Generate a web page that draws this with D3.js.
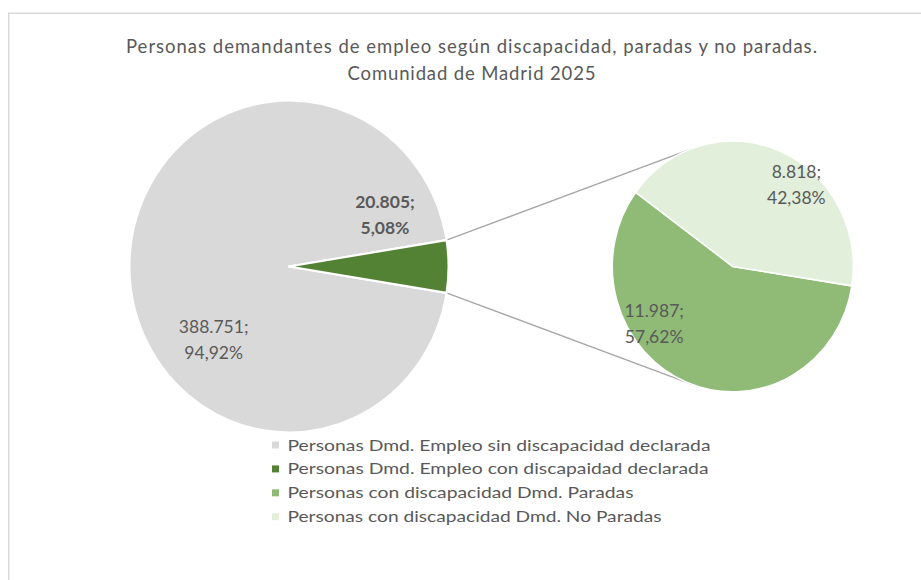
<!DOCTYPE html>
<html>
<head>
<meta charset="utf-8"/>
<script src="https://cdn.jsdelivr.net/npm/d3@7"></script>
<style>
  body { margin: 0; background: #fff; }
  text { font-family: Lato, "Open Sans", sans-serif; fill: #595959; }
</style>
</head>
<body>
<svg id="chart" width="921" height="580"></svg>
<script>
// data
const titleLines = ["Personas demandantes de empleo según discapacidad, paradas y no paradas.", "Comunidad de Madrid 2025"];
const mainLabels = ["Personas Dmd. Empleo sin discapacidad declarada", "Personas Dmd. Empleo con discapaidad declarada"];
const mainValues = [388751, 20805];
const subLabels = ["Personas con discapacidad Dmd. Paradas", "Personas con discapacidad Dmd. No Paradas"];
const subValues = [11987, 8818];
const colors = ["#d9d9d9", "#548235", "#8fbb77", "#e2efda"];

// layout
const svg = d3.select("#chart");
const sy = 1.04;              // picture is slightly stretched vertically
const left = {cx: 289, cy: 266.5, r: 159.5};
const right = {cx: 732.8, cy: 266.5, r: 120.5};
const titleWidths = [691, 248];
const legendWidths = [423, 421, 346, 374];
// label spots: [angle in degrees, distance from centre]
const mainLabelPos = [[227, 103], [62.7, 108]];
const subLabelPos = [[235, 96], [39, 101]];

const es = d3.formatLocale({decimal: ",", thousands: ".", grouping: [3], currency: ["", "€"]});
const fmtNum = es.format(",");
const fmtPct = es.format(".2%");

// frame
svg.append("rect")
    .attr("x", 0).attr("y", 0).attr("width", 921).attr("height", 580)
    .attr("fill", "#fff");
svg.append("rect")
    .attr("x", 8.75).attr("y", 13.25).attr("width", 1000).attr("height", 700)
    .attr("fill", "none")
    .attr("stroke", "#d9d9d9")
    .attr("stroke-width", 1.5);

// title
titleLines.forEach(function(t, i) {
    svg.append("text")
        .attr("x", 471.5)
        .attr("y", 52.5 + i * 27)
        .attr("text-anchor", "middle")
        .attr("textLength", titleWidths[i])
        .attr("lengthAdjust", "spacing")
        .style("font-size", "18.5px")
        .text(t);
});

// main pie
const mainTotal = d3.sum(mainValues);
const gShare = mainValues[1] / mainTotal;
const mainPie = d3.pie().sort(null)
    .startAngle(Math.PI / 2 + gShare * Math.PI)
    .endAngle(Math.PI / 2 + gShare * Math.PI + 2 * Math.PI);
const mainArcs = mainPie(mainValues);
const mainArc = d3.arc().innerRadius(0).outerRadius(left.r);

// connector lines (behind the pies)
const greenArc = mainArcs[1];
function onMain(a) {
    return [left.cx + left.r * Math.sin(a), left.cy - left.r * Math.cos(a)];
}
function tangent(p, upper) {
    let dx = right.cx - p[0], dy = right.cy - p[1];
    let d = Math.sqrt(dx * dx + dy * dy);
    let base = Math.atan2(dy, dx);
    let alpha = Math.asin(right.r / d);
    let dir = upper ? base - alpha : base + alpha;
    let len = Math.sqrt(d * d - right.r * right.r);
    return [p[0] + len * Math.cos(dir), p[1] + len * Math.sin(dir)];
}
function stretch(p) { return [p[0], left.cy + (p[1] - left.cy) * sy]; }
[[greenArc.startAngle, true], [greenArc.endAngle, false]].forEach(function(e) {
    let p = onMain(e[0]);
    let t = tangent(p, e[1]);
    let a = stretch(p), b = stretch(t);
    svg.append("line")
        .attr("x1", a[0]).attr("y1", a[1])
        .attr("x2", b[0]).attr("y2", b[1])
        .attr("stroke", "#a6a6a6")
        .attr("stroke-width", 1.3);
});

let gMain = svg.append("g")
    .attr("transform", "translate(" + left.cx + "," + left.cy + ") scale(1," + sy + ")");
gMain.selectAll("path")
    .data(mainArcs)
    .enter().append("path")
    .attr("d", mainArc)
    .attr("fill", function(d, i) { return colors[i]; })
    .attr("stroke", "#fff")
    .attr("stroke-width", 2)
    .attr("stroke-linejoin", "round");

// secondary pie
const subTotal = d3.sum(subValues);
const subStart = 98.9 * Math.PI / 180;
const subPie = d3.pie().sort(null).startAngle(subStart).endAngle(subStart + 2 * Math.PI);
const subArcs = subPie(subValues);
const subArc = d3.arc().innerRadius(0).outerRadius(right.r);
let gSub = svg.append("g")
    .attr("transform", "translate(" + right.cx + "," + right.cy + ") scale(1," + sy + ")");
gSub.selectAll("path")
    .data(subArcs)
    .enter().append("path")
    .attr("d", subArc)
    .attr("fill", function(d, i) { return colors[i + 2]; })
    .attr("stroke", "#fff")
    .attr("stroke-width", 1.5);

// data labels
function addLabel(c, pos, v, share, bold) {
    let a = pos[0] * Math.PI / 180;
    let x = c.cx + pos[1] * Math.sin(a);
    let y = c.cy - pos[1] * Math.cos(a) * sy;
    let lines = [fmtNum(v) + ";", fmtPct(share)];
    lines.forEach(function(t, i) {
        svg.append("text")
            .attr("x", x)
            .attr("y", y - 6.5 + i * 26)
            .attr("text-anchor", "middle")
            .style("font-size", "17.5px")
            .style("font-weight", bold ? "bold" : "normal")
            .text(t);
    });
}
mainValues.forEach(function(v, i) {
    addLabel(left, mainLabelPos[i], v, v / mainTotal, i == 1);
});
subValues.forEach(function(v, i) {
    addLabel(right, subLabelPos[i], v, v / subTotal, false);
});

// legend
const legendItems = mainLabels.concat(subLabels);
let legend = svg.append("g");
legendItems.forEach(function(name, i) {
    let y = 445 + i * 23.9;
    legend.append("rect")
        .attr("x", 272).attr("y", y - 3.5)
        .attr("width", 7).attr("height", 7)
        .attr("fill", colors[i]);
    legend.append("text")
        .attr("x", 287.5)
        .attr("y", y + 5.5)
        .attr("textLength", legendWidths[i])
        .attr("lengthAdjust", "spacingAndGlyphs")
        .style("font-size", "16px")
        .text(name);
});
</script>
</body>
</html>
